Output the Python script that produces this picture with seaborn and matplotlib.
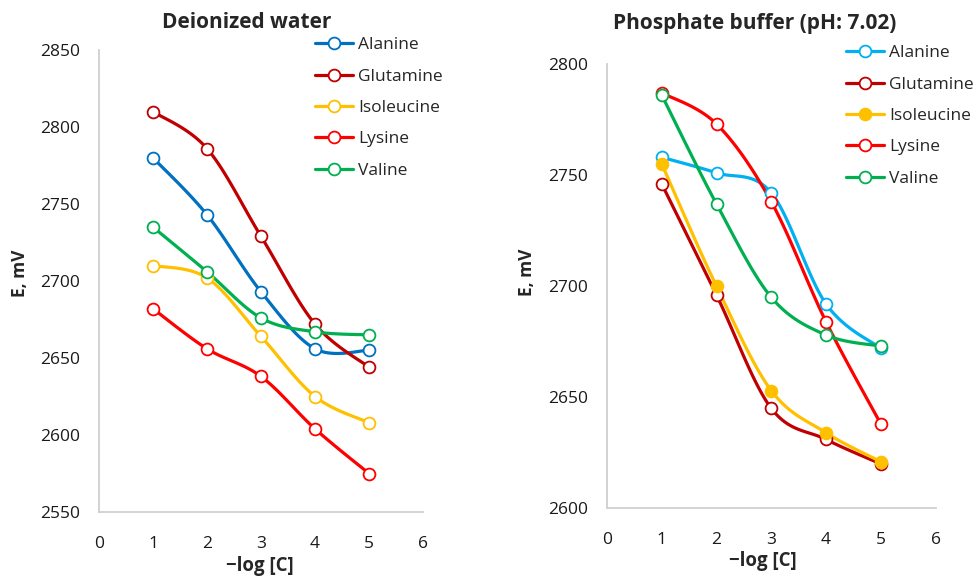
import numpy as np
import pandas as pd
import matplotlib
matplotlib.use("Agg")
import matplotlib.pyplot as plt
from matplotlib.lines import Line2D
import seaborn as sns

sns.set_theme(style="white")
plt.rcParams['font.family'] = ['Open Sans', 'DejaVu Sans']

# datos
log_c = [1, 2, 3, 4, 5]
aminoacidos = ['Alanine', 'Glutamine', 'Isoleucine', 'Lysine', 'Valine']

agua_alanine = [2780, 2743, 2693, 2656, 2655]
agua_glutamine = [2810, 2786, 2729, 2672, 2644]
agua_isoleucine = [2710, 2702, 2664, 2625, 2608]
agua_lysine = [2682, 2656, 2638, 2604, 2575]
agua_valine = [2735, 2706, 2676, 2667, 2665]

buffer_alanine = [2758, 2751, 2742, 2692, 2672]
buffer_glutamine = [2746, 2696, 2645, 2631, 2620]
buffer_isoleucine = [2755, 2700, 2653, 2634, 2621]
buffer_lysine = [2787, 2773, 2738, 2684, 2638]
buffer_valine = [2786, 2737, 2695, 2678, 2673]

colores_agua = ['#0070C0', '#C00000', '#FFC000', '#FF0000', '#00B050']
colores_buffer = ['#00B0F0', '#C00000', '#FFC000', '#FF0000', '#00B050']
rellenos_buffer = [False, False, True, False, False]


def suavizar(x, y, n=30):
    """Curva suave tipo Excel (Bezier con puntos de control Catmull-Rom)."""
    p = np.column_stack([x, y]).astype(float)
    ext = np.vstack([p[0], p, p[-1]])
    t = np.linspace(0, 1, n)[:, None]
    tramos = []
    for i in range(len(p) - 1):
        p0, p3 = ext[i + 1], ext[i + 2]
        c1 = p0 + (ext[i + 2] - ext[i]) / 6
        c2 = p3 - (ext[i + 3] - ext[i + 1]) / 6
        b = ((1 - t) ** 3) * p0 + 3 * ((1 - t) ** 2) * t * c1 + 3 * (1 - t) * t ** 2 * c2 + t ** 3 * p3
        tramos.append(b if i == 0 else b[1:])
    return np.vstack(tramos)


def dibujar(ax, series, colores, rellenos):
    filas = []
    for nombre, vals in zip(aminoacidos, series):
        curva = suavizar(log_c, vals)
        filas.append(pd.DataFrame({'x': curva[:, 0], 'E': curva[:, 1], 'serie': nombre}))
    df = pd.concat(filas, ignore_index=True)
    sns.lineplot(data=df, x='x', y='E', hue='serie', palette=dict(zip(aminoacidos, colores)),
                 sort=False, estimator=None, units='serie', linewidth=2.3, legend=False, ax=ax)
    handles = []
    for nombre, vals, c, r in zip(aminoacidos, series, colores, rellenos):
        mfc = c if r else 'white'
        ax.plot(log_c, vals, linestyle='none', marker='o', markersize=8.5,
                markeredgewidth=1.3, markeredgecolor=c, markerfacecolor=mfc, zorder=3)
        handles.append(Line2D([], [], color=c, linewidth=2.3, marker='o', markersize=8.5,
                              markeredgewidth=1.3, markeredgecolor=c, markerfacecolor=mfc))
    return handles


fig = plt.figure(figsize=(9.76, 5.77), dpi=100)
ax1 = fig.add_axes([99 / 976, 1 - 512 / 577, 324 / 976, 462 / 577])
ax2 = fig.add_axes([607 / 976, 1 - 508.3 / 577, 328.5 / 976, 444.3 / 577])

h1 = dibujar(ax1, [agua_alanine, agua_glutamine, agua_isoleucine, agua_lysine, agua_valine],
             colores_agua, [False] * 5)
h2 = dibujar(ax2, [buffer_alanine, buffer_glutamine, buffer_isoleucine, buffer_lysine, buffer_valine],
             colores_buffer, rellenos_buffer)

for ax, (ymin, ymax) in [(ax1, (2550, 2850)), (ax2, (2600, 2800))]:
    ax.set_xlim(0, 6)
    ax.set_ylim(ymin, ymax)
    ax.set_xticks(range(0, 7))
    ax.set_yticks(range(ymin, ymax + 1, 50))
    ax.set_xlabel('')
    ax.set_ylabel('')
    for s in ['top', 'right']:
        ax.spines[s].set_visible(False)
    for s in ['left', 'bottom']:
        ax.spines[s].set_color('#D0D0D0')
        ax.spines[s].set_linewidth(1.3)
    ax.tick_params(axis='both', length=0, labelsize=12.5, colors='#1a1a1a')
    ax.tick_params(axis='y', pad=13.5)
    ax.tick_params(axis='x', pad=17)
    ax.set_facecolor('white')

fig.text(247 / 976, 1 - 23 / 577, 'Deionized water', ha='center', va='center',
         fontsize=15, fontweight='bold')
fig.text(755 / 976, 1 - 24 / 577, 'Phosphate buffer (pH: 7.02)', ha='center', va='center',
         fontsize=15, fontweight='bold')
fig.text(20 / 976, 1 - 273 / 577, 'E, mV', ha='center', va='center', rotation=90,
         fontsize=12.5, fontweight='bold')
fig.text(527 / 976, 1 - 272 / 577, 'E, mV', ha='center', va='center', rotation=90,
         fontsize=12.5, fontweight='bold')
fig.text(260 / 976, 1 - 566 / 577, '\u2212log [C]', ha='center', va='center',
         fontsize=13.4, fontweight='bold')
fig.text(763 / 976, 1 - 561 / 577, '\u2212log [C]', ha='center', va='center',
         fontsize=13.4, fontweight='bold')

for ax, h, (lx, ly) in [(ax1, h1, (315, 37)), (ax2, h2, (846, 45))]:
    ax.legend(h, aminoacidos, loc='upper left', bbox_to_anchor=(lx / 976, 1 - ly / 577),
              bbox_transform=fig.transFigure, frameon=False, fontsize=12.5,
              handlelength=2.2, handletextpad=0.3, labelspacing=0.88, borderaxespad=0,
              borderpad=0)

fig.savefig('out.png', dpi=100, facecolor='white')
